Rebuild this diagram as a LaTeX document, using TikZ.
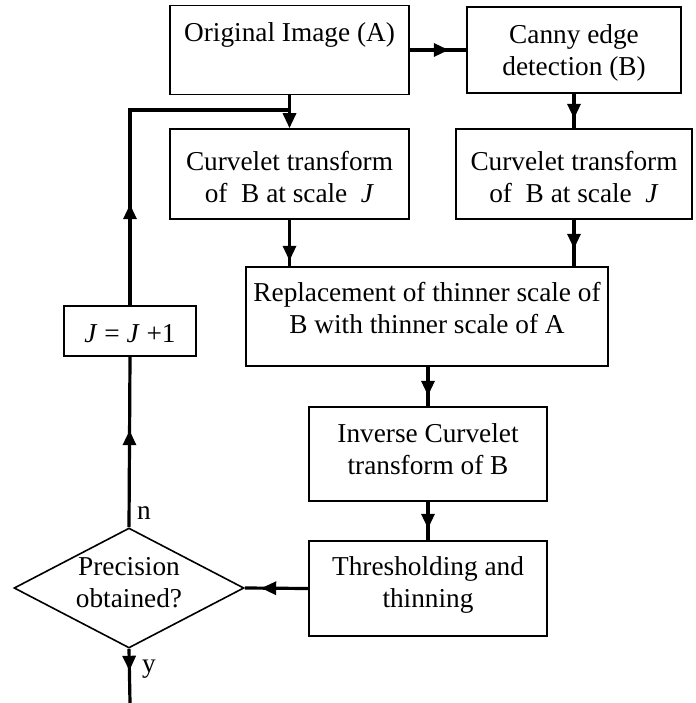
\documentclass[tikz,border=0pt]{standalone}
\usepackage{fontspec}
\setmainfont{Liberation Serif}
\usetikzlibrary{arrows.meta,shapes.geometric,decorations.markings}
\begin{document}
\begin{tikzpicture}[x=1pt,y=-1pt,
  box/.style={draw,line width=1.6pt,rectangle,inner sep=0pt},
  dbox/.style={draw,line width=1.6pt,diamond,inner sep=0pt},
  txt/.style={font=\fontsize{27.3}{32}\selectfont,align=center,inner sep=0pt},
  conn/.style={line width=3.2pt},
  tipat/.style={postaction={decorate},decoration={markings,mark=at position #1 with {\arrow{Triangle[length=15pt,width=13pt]}}}},
]
\useasboundingbox (0,0) rectangle (695,703);

% boxes
\node[box,minimum width=239pt,minimum height=89pt] (orig) at (289.5,50) {};
\node[box,minimum width=214pt,minimum height=86pt] (canny) at (574,50) {};
\node[box,minimum width=239pt,minimum height=90pt] (cl) at (289.5,174) {};
\node[box,minimum width=236pt,minimum height=90pt] (cr) at (574,174) {};
\node[box,minimum width=362pt,minimum height=99pt] (rep) at (427,316.5) {};
\node[box,minimum width=238pt,minimum height=94pt] (inv) at (428,454) {};
\node[box,minimum width=238pt,minimum height=95pt] (thr) at (428,588.5) {};
\node[dbox,minimum width=230pt,minimum height=120pt] (dia) at (129,588) {};
\node[box,minimum width=132pt,minimum height=50pt] (jbox) at (130,331) {};

% texts
\node[txt,anchor=base] (torig) at (289.5,42) {Original Image (A)};
\node[txt] (tcanny) at (574,53) {Canny edge\\detection (B)};
\node[txt] (tcl) at (289.5,177) {Curvelet transform\\of~ B at scale~ \textit{J}};
\node[txt] (tcr) at (574,177) {Curvelet transform\\of~ B at scale~ \textit{J}};
\node[txt] (trep) at (427,308) {Replacement of thinner scale of\\B with thinner scale of A};
\node[txt] (tinv) at (428,449) {Inverse Curvelet\\transform of B};
\node[txt] (tthr) at (428,585) {Thresholding and\\thinning};
\node[txt] (tdia) at (129,583) {Precision\\obtained?};
\node[txt,anchor=base] (tj) at (130,342) {\textit{J} = \textit{J} +1};
\node[txt,anchor=base west] (tn) at (137,519) {n};
\node[txt,anchor=base west] (ty) at (142,672) {y};

% coordinates
\coordinate (lc) at (130,110);
\coordinate (lj) at (289.5,110);
\coordinate (yend) at (130,703);

% connectors
\draw[conn,-{Triangle[length=15pt,width=13pt]}] (orig.south) -- (cl.north);
\draw[conn,tipat=101pt] (jbox.north) -- (lc) -- (lj);
\draw[conn,tipat=97pt] (dia.north) -- (jbox.south);
\draw[conn,tipat=39pt] (orig.east) -- (canny.west);
\draw[conn,tipat=25pt] (canny.south) -- (cr.north);
\draw[conn,tipat=41pt] (cl.south) -- (cl.south |- rep.north);
\draw[conn,tipat=29pt] (cr.south) -- (cr.south |- rep.north);
\draw[conn,tipat=29pt] (inv.north |- rep.south) -- (inv.north);
\draw[conn,tipat=27pt] (inv.south) -- (thr.north);
\draw[conn,tipat=47pt] (thr.west) -- (dia.east);
\draw[conn,tipat=22pt] (dia.south) -- (yend);
\end{tikzpicture}
\end{document}
